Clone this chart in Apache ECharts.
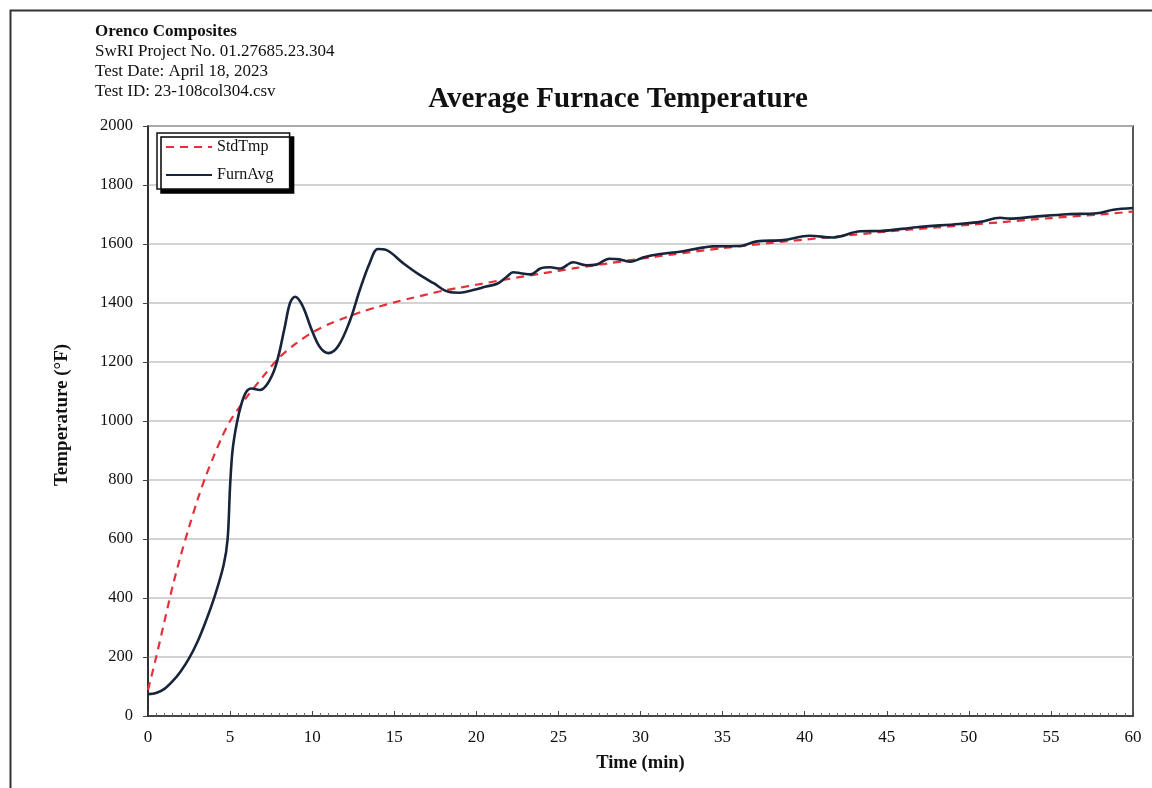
<!DOCTYPE html>
<html>
<head>
<meta charset="utf-8">
<script src="https://cdn.jsdelivr.net/npm/echarts@6/dist/echarts.min.js"></script>
<style>
  html, body { margin: 0; padding: 0; background: #fff; }
  #chart { width: 1152px; height: 788px; }
</style>
</head>
<body>
<div id="chart"></div>
<script>
// Standard time-temperature curve (StdTmp), minutes vs °F
var stdTime = [0, 0.5, 1, 1.5, 2, 2.5, 3, 3.5, 4, 4.5, 5, 6, 7, 8, 9, 10, 11, 12, 13, 14, 15, 16, 17, 18, 19, 20, 22, 24, 26, 28, 30, 32, 35, 38, 40, 42, 45, 48, 50, 52, 55, 58, 60];
var stdTemp = [88, 200, 320, 440, 545, 640, 730, 810, 880, 945, 1000, 1080, 1150, 1215, 1262, 1300, 1328, 1350, 1370, 1387, 1402, 1416, 1429, 1442, 1452, 1462, 1482, 1500, 1518, 1534, 1550, 1565, 1586, 1604, 1615, 1626, 1642, 1656, 1665, 1674, 1688, 1700, 1710];

// Measured average furnace temperature (FurnAvg), minutes vs °F
var furnTime = [0, 0.5, 1, 1.5, 2, 2.5, 3, 3.5, 4, 4.6, 4.85, 5.0, 5.15, 5.4, 5.7, 6.0, 6.3, 6.8, 7.3, 7.8, 8.3, 8.65, 8.95, 9.4, 10.0, 10.5, 11.0, 11.6, 12.3, 12.9, 13.5, 14.0, 14.5, 15.5, 16.5, 17.4, 18.3, 19.0, 19.8, 20.6, 21.3, 21.85, 22.25, 22.7, 23.3, 23.9, 24.5, 25.1, 25.9, 26.7, 27.3, 28.1, 28.7, 29.4, 30.2, 31.2, 32.4, 33.6, 34.4, 36.0, 37.1, 38.7, 40.3, 41.7, 43.4, 44.6, 46.8, 49.4, 50.7, 51.9, 52.5, 53.9, 56.0, 57.8, 58.8, 60];
var furnTemp = [74, 78, 92, 118, 152, 195, 250, 318, 395, 510, 600, 780, 900, 990, 1060, 1100, 1110, 1105, 1128, 1190, 1310, 1400, 1421, 1392, 1305, 1248, 1230, 1255, 1340, 1444, 1535, 1583, 1580, 1537, 1497, 1467, 1438, 1435, 1444, 1456, 1466, 1489, 1504, 1501, 1497, 1517, 1521, 1517, 1538, 1528, 1530, 1550, 1548, 1540, 1555, 1566, 1574, 1586, 1592, 1593, 1609, 1613, 1628, 1622, 1643, 1644, 1657, 1668, 1675, 1689, 1686, 1692, 1701, 1704, 1716, 1722];

var headerLines = ['SwRI Project No. 01.27685.23.304', 'Test Date: April 18, 2023', 'Test ID: 23-108col304.csv'];

function pairs(xs, ys) {
  return xs.map(function (x, i) { return [x, ys[i]]; });
}

var serif = '"Liberation Serif", "Times New Roman", serif';
var chart = echarts.init(document.getElementById('chart'), null, { renderer: 'canvas' });

// page frame and header block
var graphics = [
  { type: 'rect', left: 8, top: 8, shape: { width: 1170, height: 820 },
    style: { fill: null, stroke: '#333', lineWidth: 2 }, silent: true },
  { type: 'text', left: 95, top: 23,
    style: { text: 'Orenco Composites', font: 'bold 17px ' + serif, fill: '#111' } }
];
headerLines.forEach(function (t, i) {
  graphics.push({ type: 'text', left: 95, top: 43 + i * 20,
    style: { text: t, font: '17px ' + serif, fill: '#111' } });
});

chart.setOption({
  backgroundColor: '#fff',
  animation: false,
  title: {
    text: 'Average Furnace Temperature',
    left: 613, top: 80, textAlign: 'center',
    textStyle: { fontFamily: serif, fontSize: 29, fontWeight: 'bold', color: '#111' }
  },
  graphic: graphics,
  legend: {
    orient: 'vertical',
    left: 157, top: 133,
    padding: [6, 16, 6, 8],
    itemGap: 12,
    itemWidth: 46,
    itemHeight: 14,
    backgroundColor: '#fff',
    borderColor: '#111',
    borderWidth: 1.5,
    shadowColor: '#000',
    shadowBlur: 0,
    shadowOffsetX: 4,
    shadowOffsetY: 4,
    itemStyle: { opacity: 0 },
    textStyle: { fontFamily: serif, fontSize: 16, color: '#111' },
    data: ['StdTmp', 'FurnAvg']
  },
  grid: {
    left: 148, right: 19, top: 126, bottom: 72,
    show: true, borderColor: '#222', borderWidth: 1.5, backgroundColor: 'transparent'
  },
  xAxis: {
    type: 'value', min: 0, max: 60, interval: 5,
    name: 'Time (min)', nameLocation: 'middle', nameGap: 38,
    nameTextStyle: { fontFamily: serif, fontSize: 18.5, fontWeight: 'bold', color: '#111' },
    axisLine: { show: true, lineStyle: { color: '#222', width: 1.5 } },
    axisTick: { show: true, inside: true, length: 5, lineStyle: { color: '#444' } },
    minorTick: { show: true, splitNumber: 10, length: 3, lineStyle: { color: '#666' } },
    axisLabel: { fontFamily: serif, fontSize: 17, color: '#111', margin: 13 },
    splitLine: { show: false }
  },
  yAxis: {
    type: 'value', min: 0, max: 2000, interval: 200,
    name: 'Temperature (°F)', nameLocation: 'middle', nameGap: 76, nameRotate: 90,
    nameTextStyle: { fontFamily: serif, fontSize: 19, fontWeight: 'bold', color: '#111',
      padding: [0, 0, 0, 12] },
    axisLine: { show: true, lineStyle: { color: '#222', width: 1.5 } },
    axisTick: { show: true, inside: false, length: 5, lineStyle: { color: '#444' } },
    axisLabel: { fontFamily: serif, fontSize: 16.5, color: '#111', margin: 15,
      formatter: function (v) { return String(v); } },
    splitLine: { show: true, lineStyle: { color: '#c4c4c4', width: 1.5 } }
  },
  series: [
    {
      name: 'StdTmp', type: 'line', symbol: 'none', smooth: 0.3,
      data: pairs(stdTime, stdTemp),
      lineStyle: { color: '#e5303a', width: 2.2, type: [8, 6] },
      itemStyle: { color: '#e5303a' },
      z: 2
    },
    {
      name: 'FurnAvg', type: 'line', symbol: 'none', smooth: 0.35,
      data: pairs(furnTime, furnTemp),
      lineStyle: { color: '#17243a', width: 2.6 },
      itemStyle: { color: '#17243a' },
      z: 3
    }
  ]
});
</script>
</body>
</html>
